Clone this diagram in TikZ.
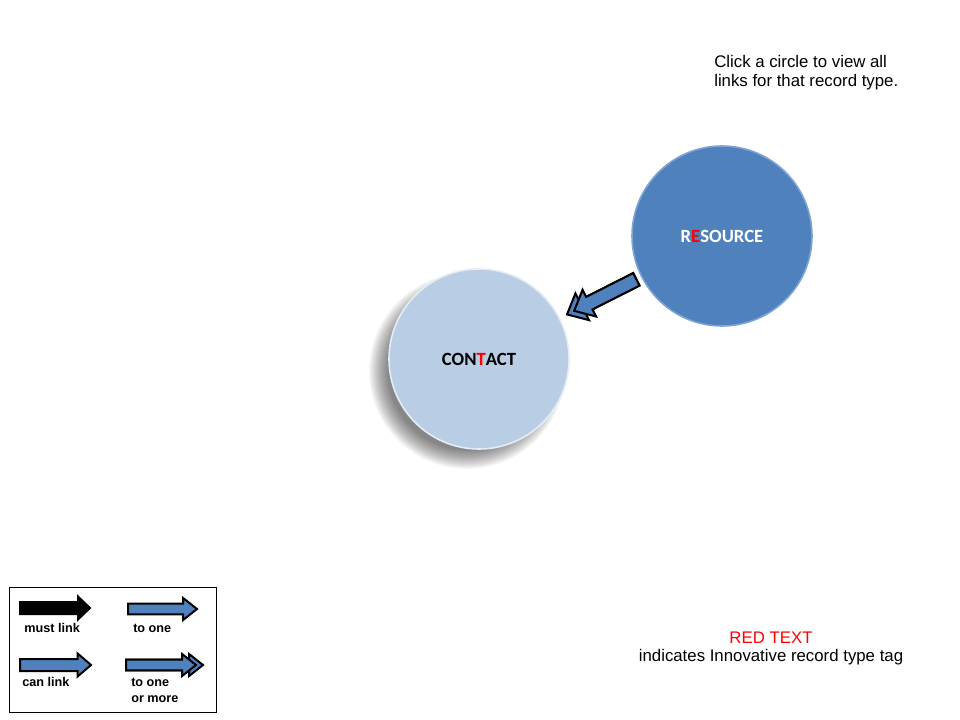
\documentclass[tikz,border=0pt]{standalone}
\usepackage{fontspec}
\setmainfont{Liberation Sans}
\newfontfamily\carlito{Carlito}
\usetikzlibrary{calc}
\usetikzlibrary{positioning}

\definecolor{arrowblue}{HTML}{4F81BD}
\definecolor{resourceblue}{HTML}{4F81BD}
\definecolor{resourcerim}{HTML}{7FA5D6}
\definecolor{contactblue}{HTML}{B9CDE5}
\definecolor{contactrim}{HTML}{E4ECF6}
\definecolor{tagred}{HTML}{FF0000}

% block arrow: style, tail, tip, half shaft, half head, head length
\newcommand{\linkarrow}[6]{%
  \coordinate (headbase) at ($(#3)!#6!(#2)$);
  \path[#1] ($(#2)!#4!90:(#3)$) -- ($(headbase)!#4!90:(#3)$)
     -- ($(headbase)!#5!90:(#3)$) -- (#3)
     -- ($(headbase)!#5!-90:(#3)$) -- ($(headbase)!#4!-90:(#3)$)
     -- ($(#2)!#4!-90:(#3)$) -- cycle;
}

\begin{document}
\begin{tikzpicture}
  [x=0.75pt, y=-0.75pt,
   record/.style={shape=circle, inner sep=0pt, minimum size=135pt,
         font=\carlito\bfseries\fontsize{14}{16}\selectfont},
   blockarrow/.style={draw=black, line width=1.5pt, fill=arrowblue, line join=miter},
   mustarrow/.style={blockarrow, fill=black},
   legendtext/.style={font=\bfseries\fontsize{9.5}{12}\selectfont,
         anchor=west, align=left, inner sep=0pt},
   note/.style={font=\fontsize{12.6}{14.4}\selectfont, inner sep=0pt}
  ]
  \useasboundingbox (0,0) rectangle (960,720);

  % shadow under the contact circle, towards the lower left
  \foreach \i in {0,...,19}
    \fill[black, opacity=0.03] (467,371) circle ({(98-\i)*0.75pt});

 \path
   (722, 236) node (resource) [record, fill=resourceblue, draw=resourcerim, line width=1.2pt,
                               text=white] {R\textcolor{tagred}{E}SOURCE}
   (479, 359) node (contact)  [record, fill=contactblue, draw=contactrim, line width=1.2pt]
                                          {CON\textcolor{tagred}{T}ACT}
   (714, 55)  node (hint)     [note, anchor=north west, align=left]
                                          {Click a circle to view all\\links for that record type.}
   (771, 638) node (redtext)  [note, text=tagred] {RED TEXT}
   (771, 657) node (tagnote)  [note] {indicates Innovative record type tag};

  % link between the two records
  \coordinate (linktail) at ($(resource)!72pt!(contact)$);
  \coordinate (linktip)  at ($(contact)!74pt!(resource)$);
  \coordinate (linktip1) at ($(contact)!80pt!(resource)$);
  \linkarrow{blockarrow}{linktail}{linktip}{5.25pt}{11.25pt}{12.75pt}
  \linkarrow{blockarrow}{linktail}{linktip1}{5.25pt}{11.25pt}{12.75pt}

  % legend
  \draw[line width=0.75pt] (9,587) rectangle (216,712);
  \coordinate (musttail) at (20,608);  \coordinate (musttip) at (90,608);
  \coordinate (onetail)  at (128,609); \coordinate (onetip)  at (197,609);
  \coordinate (cantail)  at (20,665);  \coordinate (cantip)  at (91,665);
  \coordinate (moretail) at (126,665); \coordinate (moretip) at (196,665);
  \coordinate (moretip2) at (203,665);
  \linkarrow{mustarrow}{musttail}{musttip}{4.5pt}{8.6pt}{9pt}
  \linkarrow{blockarrow}{onetail}{onetip}{4.1pt}{8.3pt}{10.5pt}
  \linkarrow{blockarrow}{cantail}{cantip}{4.5pt}{8.6pt}{10pt}
  \linkarrow{blockarrow}{moretail}{moretip2}{4.1pt}{8.3pt}{10.5pt}
  \linkarrow{blockarrow}{moretail}{moretip}{4.1pt}{8.3pt}{10.5pt}

  \path
   (24, 628)  node (mustlabel) [legendtext] {must link}
   (133, 628) node (onelabel)  [legendtext] {to one}
   (22, 682)  node (canlabel)  [legendtext] {can link}
   (131, 690) node (morelabel) [legendtext] {to one\\or more};
\end{tikzpicture}
\end{document}
